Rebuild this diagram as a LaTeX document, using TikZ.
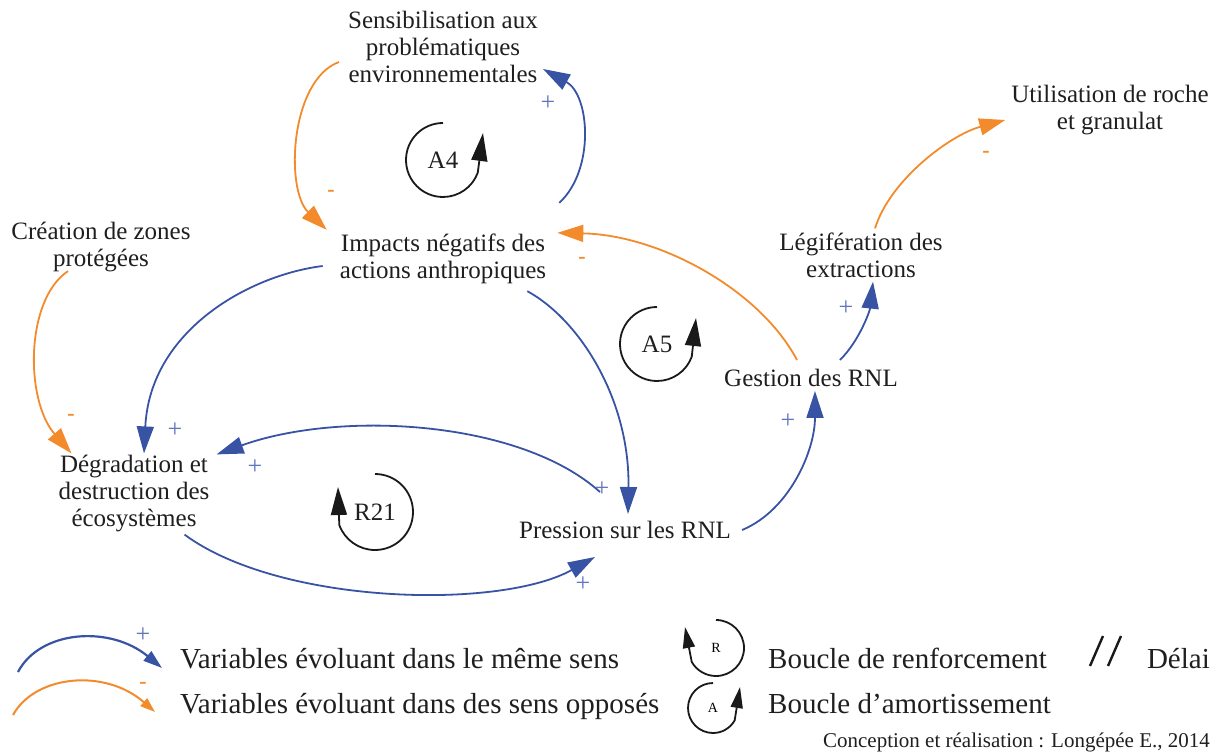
\documentclass[tikz,border=0pt]{standalone}
\usepackage{fontspec}
\setmainfont{Liberation Serif}
\usetikzlibrary{arrows.meta}

\definecolor{bleu}{RGB}{56,83,164}
\definecolor{orangeneg}{RGB}{243,139,44}
\definecolor{bleuclair}{RGB}{98,118,192}

\begin{document}
\begin{tikzpicture}[x=1pt, y=-1pt,
    varbox/.style={align=center, inner sep=1pt, text=black!88, font=\fontsize{25}{27}\selectfont},
    plusarrow/.style={bleu, line width=1.8pt, -{Triangle[length=27pt, width=17pt]}},
    minusarrow/.style={orangeneg, line width=1.8pt, -{Triangle[length=26pt, width=17pt]}},
    plussign/.style={text=bleuclair, inner sep=0pt, font=\fontsize{26}{26}\selectfont},
    minussign/.style={text=orangeneg, inner sep=0pt, font=\fontsize{22}{22}\selectfont\bfseries},
    loopline/.style={black!90, line width=1.8pt, -{Triangle[length=28pt, width=16pt]}},
    legende/.style={inner sep=0pt, text=black!88, font=\fontsize{29}{29}\selectfont}]
    \useasboundingbox (0,0) rectangle (1219,754);

    % variables du diagramme
    \node[varbox] (sens) at (443,47) {Sensibilisation aux\\problématiques\\environnementales};
    \node[varbox] (util) at (1110,110) {Utilisation de roche\\et granulat};
    \node[varbox] (crea) at (101,247) {Création de zones\\protégées};
    \node[varbox] (impacts) at (443,259) {Impacts négatifs des\\actions anthropiques};
    \node[varbox] (legif) at (861,255) {Légifération des\\extractions};
    \node[varbox] (gestion) at (811,378) {Gestion des RNL};
    \node[varbox] (degr) at (134,494) {Dégradation et\\destruction des\\écosystèmes};
    \node[varbox] (pression) at (625,530) {Pression sur les RNL};

    % boucle A4
    \draw[minusarrow] ([xshift=-8,yshift=-15]sens.west) .. controls (290,80) and (285,190) .. ([xshift=-12,yshift=3]impacts.north west);
    \draw[plusarrow] ([xshift=12,yshift=30]impacts.north east) .. controls (595,170) and (590,95) .. ([xshift=4,yshift=-22]sens.east);

    % vers la dégradation
    \draw[minusarrow] ([xshift=-33,yshift=2]crea.south) .. controls (25,300) and (25,400) .. ([xshift=14,yshift=1]degr.north west);
    \draw[plusarrow] ([xshift=-16,yshift=-7]impacts.west) .. controls (250,275) and (150,330) .. ([xshift=10,yshift=1]degr.north);

    % boucle R21
    \draw[plusarrow] ([xshift=-20,yshift=-6]impacts.south east) .. controls (580,320) and (630,400) .. ([xshift=3,yshift=6]pression.north);
    \draw[plusarrow] ([xshift=-25,yshift=28]pression.north) .. controls (520,420) and (340,410) .. ([xshift=6,yshift=0]degr.north east);
    \draw[plusarrow] ([xshift=-26,yshift=-1]degr.south east) .. controls (280,605) and (500,610) .. ([xshift=-30,yshift=-17]pression.south);

    % boucle A5 et gestion
    \draw[plusarrow] ([xshift=10]pression.east) .. controls (790,510) and (815,450) .. ([xshift=4,yshift=-3]gestion.south);
    \draw[minusarrow] ([xshift=-14,yshift=8]gestion.north) .. controls (760,290) and (660,235) .. ([xshift=10,yshift=0]impacts.north east);
    \draw[plusarrow] ([xshift=29,yshift=8]gestion.north) .. controls (860,340) and (870,310) .. ([xshift=12,yshift=-3]legif.south);
    \draw[minusarrow] ([xshift=14,yshift=3]legif.north) .. controls (890,180) and (950,135) .. ([xshift=-5,yshift=-10]util.west);

    % signes
    \node[minussign] (s1) at (331,193) {-};
    \node[plussign] (s2) at (548,103) {+};
    \node[minussign] (s3) at (71,417) {-};
    \node[plussign] (s4) at (175,430) {+};
    \node[plussign] (s5) at (602,489) {+};
    \node[plussign] (s6) at (255,467) {+};
    \node[plussign] (s7) at (583,584) {+};
    \node[plussign] (s8) at (788,421) {+};
    \node[minussign] (s9) at (582,260) {-};
    \node[plussign] (s10) at (846,308) {+};
    \node[minussign] (s11) at (986,154) {-};

    % symboles de boucle
    \node[varbox] (a4) at (443,160) {A4};
    \draw[loopline] ([yshift=37pt]a4.center) arc[start angle=90, end angle=340, radius=37pt] -- ([xshift=40pt,yshift=27pt]a4.center);
    \node[varbox] (a5) at (657,344) {A5};
    \draw[loopline] ([yshift=37pt]a5.center) arc[start angle=90, end angle=340, radius=37pt] -- ([xshift=39pt,yshift=26pt]a5.center);
    \node[varbox] (r21) at (375,512) {R21};
    \draw[loopline] ([yshift=38pt]r21.center) arc[start angle=90, end angle=-160, radius=38pt] -- ([xshift=-37pt,yshift=25pt]r21.center);

    % légende
    \coordinate (lp1) at (18,672);
    \coordinate (lp2) at (162,668);
    \coordinate (lm1) at (13,715);
    \coordinate (lm2) at (155,712);
    \draw[bleu, line width=2.2pt, -{Triangle[length=19pt, width=12pt]}] (lp1) .. controls (40,630) and (110,625) .. (lp2);
    \draw[orangeneg, line width=2pt, -{Triangle[length=15pt, width=10pt]}] (lm1) .. controls (35,675) and (105,668) .. (lm2);
    \node[plussign] (lsp) at (143,635) {+};
    \node[minussign] (lsm) at (143,685) {-};
    \node[legende, anchor=base west] (lt1) at (180,668) {Variables évoluant dans le même sens};
    \node[legende, anchor=base west] (lt2) at (180,713) {Variables évoluant dans des sens opposés};

    \node[inner sep=0pt, font=\fontsize{14}{14}\selectfont] (legr) at (716,648) {R};
    \draw[black!90, line width=1.8pt, -{Triangle[length=21pt, width=12pt]}] ([yshift=28pt]legr.center) arc[start angle=90, end angle=-150, radius=28pt] -- ([xshift=-31pt,yshift=21pt]legr.center);
    \node[inner sep=0pt, font=\fontsize{14}{14}\selectfont] (lega) at (713,708) {A};
    \draw[black!90, line width=1.8pt, -{Triangle[length=21pt, width=12pt]}] ([yshift=25pt]lega.center) arc[start angle=90, end angle=330, radius=25pt] -- ([xshift=27pt,yshift=21pt]lega.center);
    \node[legende, anchor=base west] (lt3) at (768,668) {Boucle de renforcement};
    \node[legende, anchor=base west] (lt4) at (768,713) {Boucle d’amortissement};

    % délai
    \draw[black!90, line width=2.4pt] (1090,666) -- (1103,636);
    \draw[black!90, line width=2.4pt] (1108,666) -- (1121,636);
    \node[legende, anchor=base east] (lt5) at (1210,668) {Délai};
    \node[inner sep=0pt, anchor=base east, text=black!88, font=\fontsize{21}{21}\selectfont] (credit) at (1210,747) {Conception et réalisation : Longépée E., 2014};
\end{tikzpicture}
\end{document}
